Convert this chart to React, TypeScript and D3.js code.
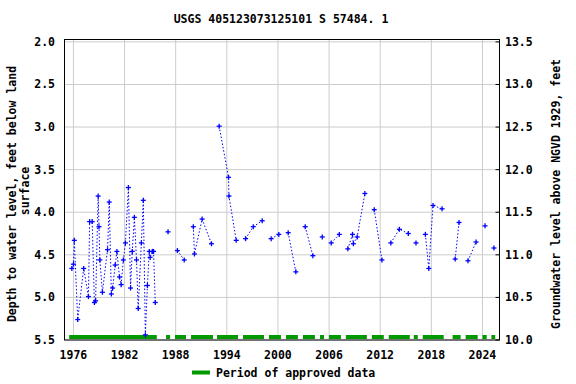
import React from "react";
import * as d3 from "d3";

// water level measurements (decimal year, depth below land surface in ft)
const dates = [
  1975.81, 1976.0, 1976.1, 1976.5, 1977.2, 1977.76, 1977.9, 1978.2, 1978.46, 1978.6,
  1978.9, 1979.0, 1979.1, 1979.4, 1980.0, 1980.2, 1980.45, 1980.6, 1980.9, 1981.1,
  1981.4, 1981.6, 1981.86, 1982.1, 1982.45, 1982.7, 1982.9, 1983.15, 1983.4, 1983.6,
  1983.97, 1984.2, 1984.44, 1984.68, 1984.9, 1985.0, 1985.26, 1985.4, 1985.6,
  1987.1,
  1988.2, 1989.0,
  1990.07, 1990.2, 1991.1, 1992.2,
  1993.1, 1994.2, 1994.25, 1995.1,
  1996.2, 1997.1, 1998.15,
  1999.2, 2000.1,
  2001.2, 2002.1,
  2003.2, 2004.1,
  2005.2,
  2006.25, 2007.2,
  2008.2, 2008.75, 2008.85, 2009.3, 2010.2,
  2011.3, 2012.2,
  2013.25, 2014.25, 2015.3,
  2016.2,
  2017.3, 2017.7, 2018.2, 2019.26,
  2020.8, 2021.25,
  2022.3, 2023.25,
  2024.3,
  2025.35,
];
const depths = [
  4.66, 4.61, 4.33, 5.26, 4.66, 4.99, 4.11, 4.11, 5.06, 5.04,
  3.81, 4.17, 4.56, 4.94, 4.44, 3.88, 4.96, 4.89, 4.62, 4.46,
  4.76, 4.85, 4.56, 4.36, 3.71, 4.89, 4.46, 4.06, 4.56, 5.13,
  4.36, 3.86, 5.44, 4.86, 4.46, 4.53, 4.46, 4.46, 5.06,
  4.23,
  4.45, 4.56,
  4.17, 4.49, 4.08, 4.37,
  2.99, 3.59, 3.81, 4.33,
  4.31, 4.17, 4.10,
  4.31, 4.26,
  4.24, 4.70,
  4.17, 4.51,
  4.29,
  4.36, 4.26,
  4.43, 4.26, 4.37, 4.29, 3.78,
  3.97, 4.56,
  4.36, 4.20, 4.25,
  4.36,
  4.26, 4.66, 3.92, 3.96,
  4.55, 4.12,
  4.57, 4.35,
  4.16,
  4.42,
];
// which connected run each point belongs to
const segment = [
  0, 0, 0, 0, 0, 0, 0, 0, 0, 0,
  0, 0, 0, 0, 0, 0, 0, 0, 0, 0,
  0, 0, 0, 0, 0, 0, 0, 0, 0, 0,
  0, 0, 0, 0, 0, 0, 0, 0, 0,
  1,
  2, 2,
  3, 3, 3, 3,
  4, 4, 4, 4,
  5, 5, 5,
  6, 6,
  7, 7,
  8, 8,
  9,
  10, 10,
  11, 11, 11, 11, 11,
  12, 12,
  13, 13, 13,
  14,
  15, 15, 15, 15,
  16, 16,
  17, 17,
  18,
  19,
];

const approvedStart = [
  1975.5, 1986.87, 1987.92, 1989.8, 1992.85, 1995.9, 1998.94, 2000.94, 2002.93, 2004.93,
  2005.98, 2007.97, 2011.02, 2013.0, 2015.94, 2016.99, 2020.5, 2022.03, 2024.0, 2025.05,
];
const approvedEnd = [
  1985.78, 1987.34, 1989.21, 1992.38, 1995.31, 1998.36, 2000.35, 2002.34, 2004.34, 2005.4,
  2007.39, 2010.43, 2012.42, 2015.47, 2016.41, 2019.45, 2021.44, 2023.44, 2024.5, 2025.5,
];

const yearTicks = [1976, 1982, 1988, 1994, 2000, 2006, 2012, 2018, 2024];
const depthTicks = [2.0, 2.5, 3.0, 3.5, 4.0, 4.5, 5.0, 5.5];
const datumOffset = 15.5; // land surface elevation, ft NGVD 1929

const font = "'DejaVu Sans Mono', monospace";

export default function App() {
  const left = 64.5, right = 499.5, top = 39.5, bottom = 340;
  const x = d3.scaleLinear().domain([1974.95, 2026.0]).range([left, right]);
  const y = d3.scaleLinear().domain([1.972, 5.5]).range([top, bottom]);

  const pts = dates.map((d, i) => ({ t: d, v: depths[i], s: segment[i] }));
  const groups = d3.groups(pts, (p) => p.s).map((g) => g[1]);
  const line = d3
    .line<{ t: number; v: number }>()
    .x((p) => x(p.t))
    .y((p) => y(p.v));

  return (
    <svg
      width={576}
      height={384}
      style={{ position: "absolute", left: 0, top: 0, background: "#fff" }}
      fontFamily={font}
      fontWeight="bold"
      fontSize={11.5}
    >
      <rect width={576} height={384} fill="#fff" />
      <text x={281} y={23} textAnchor="middle">
        USGS 405123073125101 S 57484. 1
      </text>

      {/* grid */}
      {yearTicks.map((t) => (
        <line key={"gx" + t} x1={x(t)} x2={x(t)} y1={top} y2={bottom} stroke="#cccccc" strokeWidth={1} />
      ))}
      {depthTicks.map((t) => (
        <line key={"gy" + t} x1={left} x2={right} y1={y(t)} y2={y(t)} stroke="#cccccc" strokeWidth={1} />
      ))}

      {/* approved periods */}
      {approvedStart.map((s, i) => (
        <rect key={"ap" + i} x={x(s)} y={335} width={x(approvedEnd[i]) - x(s)} height={4} fill="#009900" />
      ))}

      {/* data */}
      {groups.map((g, i) => (
        <path key={"ln" + i} d={line(g) || ""} fill="none" stroke="#0000ff" strokeWidth={1} strokeDasharray="1.5,2" />
      ))}
      {pts.map((p, i) => (
        <g key={"pt" + i} stroke="#0000ff" strokeWidth={1.3}>
          <line x1={x(p.t) - 2.5} x2={x(p.t) + 2.5} y1={y(p.v)} y2={y(p.v)} />
          <line x1={x(p.t)} x2={x(p.t)} y1={y(p.v) - 2.5} y2={y(p.v) + 2.5} />
        </g>
      ))}

      {/* frame */}
      <rect x={left} y={top} width={right - left} height={bottom - top} fill="none" stroke="#000" strokeWidth={1} />

      {/* left axis labels */}
      {depthTicks.map((t) => (
        <text key={"ly" + t} x={55} y={y(t)} dy="0.35em" textAnchor="end">
          {t.toFixed(1)}
        </text>
      ))}
      {/* right axis */}
      {depthTicks.map((t) => (
        <g key={"ry" + t}>
          <line x1={right - 4} x2={right} y1={y(t)} y2={y(t)} stroke="#000" />
          <text x={505} y={y(t)} dy="0.35em" textAnchor="start">
            {(datumOffset - t).toFixed(1)}
          </text>
        </g>
      ))}
      {/* bottom axis labels */}
      {yearTicks.map((t) => (
        <text key={"lx" + t} x={x(t)} y={359} textAnchor="middle">
          {t}
        </text>
      ))}

      <text transform="translate(12,194) rotate(-90)" textAnchor="middle" dy="0.35em">
        Depth to water level, feet below land
      </text>
      <text transform="translate(25,191) rotate(-90)" textAnchor="middle" dy="0.35em">
        surface
      </text>
      <text transform="translate(556,194) rotate(-90)" textAnchor="middle" dy="0.35em">
        Groundwater level above NGVD 1929, feet
      </text>

      {/* legend */}
      <line x1={192} x2={210} y1={372.5} y2={372.5} stroke="#009900" strokeWidth={4} />
      <text x={216} y={373} dy="0.35em">
        Period of approved data
      </text>
    </svg>
  );
}
